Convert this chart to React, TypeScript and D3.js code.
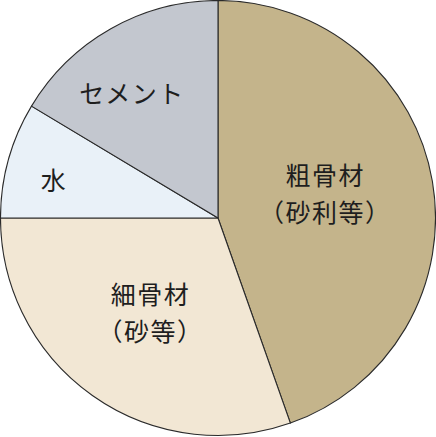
import { useEffect, useRef } from 'react';
import * as d3 from 'd3';

// concrete composition (share of volume)
const materials = ['粗骨材', '細骨材', '水', 'セメント'];
const subLabels = ['（砂利等）', '（砂等）', '', ''];
const shares = [44.6, 30.4, 8.6, 16.4];
const colors = ['#c4b48b', '#f2e7d4', '#e9f1f8', '#c3c7cf'];

const W = 436;
const H = 437;

// label placement: radius from centre and angle nudge (radians) per slice
const labelRadius = [110, 117, 168, 151];
const labelAngleShift = [-0.05, 0, -0.05, -0.09];

export default function App() {
    const svgRef = useRef<SVGSVGElement>(null);

    useEffect(() => {
        if (!svgRef.current) return;
        const svg = d3.select(svgRef.current);
        svg.selectAll('*').remove();

        const cx = 218;
        const cy = 218;
        const radius = 217.5;

        const data = materials.map((name, i) => ({
            name,
            sub: subLabels[i],
            value: shares[i],
            color: colors[i],
            i
        }));

        const pie = d3.pie<typeof data[0]>().value(d => d.value).sort(null);
        const arc = d3.arc<d3.PieArcDatum<typeof data[0]>>()
            .innerRadius(0)
            .outerRadius(radius);

        const g = svg.append('g').attr('transform', `translate(${cx},${cy})`);
        const arcs = pie(data);

        g.selectAll('path')
            .data(arcs)
            .enter()
            .append('path')
            .attr('d', arc)
            .attr('fill', d => d.data.color)
            .attr('stroke', '#2a2a2a')
            .attr('stroke-width', 1.1)
            .attr('stroke-linejoin', 'round');

        const lh = 37;
        const labels = g.selectAll('text.label')
            .data(arcs)
            .enter()
            .append('text')
            .attr('class', 'label')
            .attr('transform', d => {
                const a = (d.startAngle + d.endAngle) / 2 + labelAngleShift[d.data.i];
                const r = labelRadius[d.data.i];
                return `translate(${r * Math.sin(a)},${-r * Math.cos(a)})`;
            })
            .attr('text-anchor', 'middle')
            .attr('fill', '#1e1e1e')
            .attr('letter-spacing', 1.5)
            .style('font-family', '"Noto Sans CJK JP", sans-serif')
            .style('font-size', '25px')
            .style('font-weight', 400);

        labels.each(function (d) {
            const sel = d3.select(this);
            const lines = d.data.sub ? [d.data.name, d.data.sub] : [d.data.name];
            lines.forEach((t, k) => {
                sel.append('tspan')
                    .attr('x', 0)
                    .attr('y', (k - (lines.length - 1) / 2) * lh + 9)
                    .text(t);
            });
        });
    }, []);

    return (
        <svg
            ref={svgRef}
            width={W}
            height={H}
            style={{ position: 'fixed', left: 0, top: 0, background: '#ffffff' }}
        />
    );
}
